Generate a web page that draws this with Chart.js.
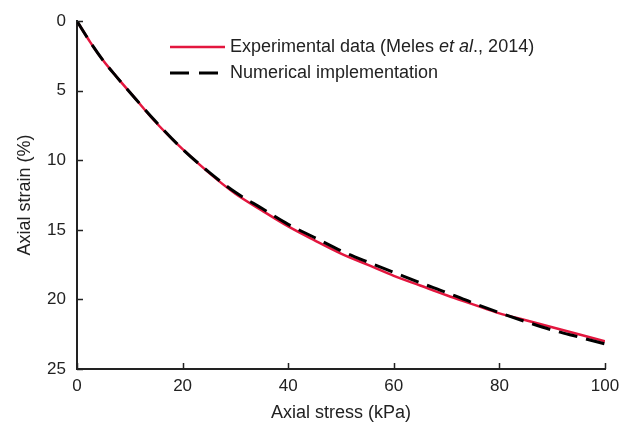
<!DOCTYPE html>
<html>
<head>
<meta charset="utf-8">
<script src="https://cdn.jsdelivr.net/npm/chart.js@4.4.1/dist/chart.umd.min.js"></script>
<style>
  html, body { margin: 0; padding: 0; background: #fff; }
  #wrap { width: 633px; height: 426px; position: relative; }
</style>
</head>
<body>
<div id="wrap"><canvas id="strainChart"></canvas></div>
<script>
// Axial stress (kPa) sample points
const stress = [0, 2.5, 5, 7.5, 10, 15, 20, 25, 30, 35, 40, 45, 50, 55, 60, 65, 70, 75, 80, 85, 90, 95, 100];
// Experimental data (Meles et al., 2014), axial strain (%)
const experimental = [0, 1.5, 2.85, 4.0, 5.1, 7.3, 9.2, 10.9, 12.4, 13.6, 14.75, 15.75, 16.7, 17.5, 18.3, 19.0, 19.7, 20.35, 21.0, 21.5, 22.0, 22.5, 23.0];
// Numerical implementation, axial strain (%)
const numerical = [0, 1.5, 2.85, 4.0, 5.1, 7.25, 9.2, 10.85, 12.3, 13.45, 14.6, 15.55, 16.5, 17.3, 18.05, 18.8, 19.5, 20.25, 20.95, 21.6, 22.2, 22.7, 23.2];

const xTicks = [0, 20, 40, 60, 80, 100];
const yTicks = [0, 5, 10, 15, 20, 25];

const FONT = '"Liberation Sans", Arial, sans-serif';
const RED = '#e3163e';
const INK = '#222';

const toPoints = (ys) => stress.map((x, i) => ({ x: x, y: ys[i] }));

// inward tick marks, like the original figure
const innerTicks = {
    id: 'innerTicks',
    afterDraw(chart) {
        const { ctx, chartArea, scales } = chart;
        ctx.save();
        ctx.strokeStyle = INK;
        ctx.lineWidth = 1.5;
        ctx.beginPath();
        xTicks.forEach(v => {
            const px = Math.round(scales.x.getPixelForValue(v)) + 0.5;
            ctx.moveTo(px, chartArea.bottom);
            ctx.lineTo(px, chartArea.bottom - 6);
        });
        yTicks.forEach(v => {
            const py = Math.round(scales.y.getPixelForValue(v)) + 0.5;
            ctx.moveTo(chartArea.left, py);
            ctx.lineTo(chartArea.left + 6, py);
        });
        ctx.stroke();
        ctx.restore();
    }
};

// legend drawn by hand so "et al." can be italic
const figLegend = {
    id: 'figLegend',
    afterDraw(chart) {
        const ctx = chart.ctx;
        const x0 = 170, x1 = 225, tx = 230;
        ctx.save();
        ctx.lineWidth = 2.5;
        ctx.strokeStyle = RED;
        ctx.beginPath();
        ctx.moveTo(x0, 47); ctx.lineTo(x1, 47);
        ctx.stroke();
        ctx.lineWidth = 3;
        ctx.strokeStyle = '#000';
        ctx.setLineDash([19, 10]);
        ctx.beginPath();
        ctx.moveTo(x0, 73); ctx.lineTo(x1 + 2, 73);
        ctx.stroke();
        ctx.setLineDash([]);

        ctx.fillStyle = INK;
        ctx.textBaseline = 'middle';
        const parts = [
            ['Experimental data (Meles ', 'normal'],
            ['et al', 'italic'],
            ['., 2014)', 'normal']
        ];
        let cx = tx;
        parts.forEach(([s, st]) => {
            ctx.font = st + ' 18px ' + FONT;
            ctx.fillText(s, cx, 47);
            cx += ctx.measureText(s).width;
        });
        ctx.font = '18px ' + FONT;
        ctx.fillText('Numerical implementation', tx, 73);
        ctx.restore();
    }
};

const ctx = document.getElementById('strainChart').getContext('2d');
new Chart(ctx, {
    type: 'line',
    data: {
        datasets: [
            {
                label: 'Numerical implementation',
                data: toPoints(numerical),
                borderColor: '#000',
                borderWidth: 3,
                borderDash: [19, 9],
                pointRadius: 0,
                fill: false,
                cubicInterpolationMode: 'monotone',
                order: 0
            },
            {
                label: 'Experimental data (Meles et al., 2014)',
                data: toPoints(experimental),
                borderColor: RED,
                borderWidth: 2.5,
                pointRadius: 0,
                fill: false,
                cubicInterpolationMode: 'monotone',
                order: 1
            }
        ]
    },
    options: {
        responsive: true,
        maintainAspectRatio: false,
        animation: false,
        layout: { padding: { top: 19, right: 28, left: 0, bottom: 0 } },
        plugins: {
            legend: { display: false },
            tooltip: { enabled: false }
        },
        scales: {
            x: {
                type: 'linear',
                min: 0,
                max: 100,
                afterBuildTicks: (scale) => { scale.ticks = xTicks.map(v => ({ value: v })); },
                afterFit: (scale) => { scale.height = 57; },
                grid: { display: false, drawTicks: false },
                border: { display: true, color: INK, width: 2 },
                ticks: { color: INK, padding: 7, font: { family: FONT, size: 17 } },
                title: {
                    display: true,
                    text: 'Axial stress (kPa)',
                    color: INK,
                    font: { family: FONT, size: 18 },
                    padding: { top: 2, bottom: 2 }
                }
            },
            y: {
                type: 'linear',
                reverse: true,
                min: 0,
                max: 25,
                afterBuildTicks: (scale) => { scale.ticks = yTicks.map(v => ({ value: v })); },
                afterFit: (scale) => { scale.width = 77; },
                grid: { display: false, drawTicks: false },
                border: { display: true, color: INK, width: 2 },
                ticks: { color: INK, padding: 11, font: { family: FONT, size: 17 } },
                title: {
                    display: true,
                    text: 'Axial strain (%)',
                    color: INK,
                    font: { family: FONT, size: 18 },
                    padding: { top: 14, bottom: 0 }
                }
            }
        }
    },
    plugins: [innerTicks, figLegend]
});
</script>
</body>
</html>
